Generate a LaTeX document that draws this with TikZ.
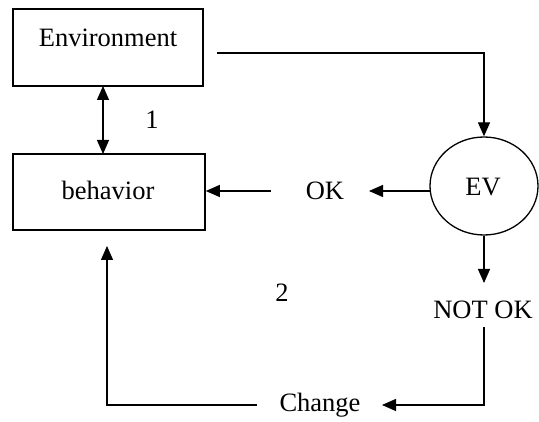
\documentclass[tikz,border=0pt]{standalone}
\usepackage{fontspec}
\setmainfont{Liberation Serif}
\usetikzlibrary{arrows.meta,shapes.geometric}
\begin{document}
\begin{tikzpicture}[x=1pt,y=-1pt,
  boxnode/.style={draw,line width=1.6pt,rectangle,inner sep=0pt},
  txt/.style={font=\fontsize{26.5}{28}\selectfont,inner sep=0pt},
  conn/.style={line width=1.3pt,-{Triangle[width=12pt,length=14pt]}},
  plain/.style={line width=1.3pt}]
\useasboundingbox (0,0) rectangle (539,422);
\node[boxnode,minimum width=190pt,minimum height=77pt] (env) at (108,47.5) {};
\node[boxnode,minimum width=192pt,minimum height=76pt] (beh) at (109,192) {};
\node[txt] (envt) at (108,38) {Environment};
\node[txt] (beht) at (108,190) {behavior};
\node[draw,ellipse,line width=1.3pt,minimum width=108pt,minimum height=98pt,inner sep=0pt] (ev) at (484,186) {};
\node[txt] (evt) at (483,187) {EV};
\node[txt] (ok) at (325,191) {OK};
\node[txt] (notok) at (483,310) {NOT OK};
\node[txt] (change) at (320,405) {Change};
\node[txt] (one) at (152,120) {1};
\node[txt] (two) at (282,293) {2};
\coordinate (e1) at (217,53);
\coordinate (e2) at (484,53);
\coordinate (o1) at (271,191);
\coordinate (o2) at (430.5,191);
\coordinate (n1) at (484,327);
\coordinate (n2) at (484,405);
\coordinate (c1) at (257,405);
\coordinate (c2) at (107,405);
\draw[line width=1.3pt,{Triangle[width=12pt,length=14pt]}-{Triangle[width=12pt,length=14pt]}] (103,86) -- (103,154);
\draw[conn] (e1) -- (e2) -- (ev.north);
\draw[conn] (o2) -- (369,191);
\draw[conn] (o1) -- (o1 -| beh.east);
\draw[conn] (ev.south) -- (484,283);
\draw[conn] (n1) -- (n2) -- (382,405);
\draw[conn] (c1) -- (c2) -- (107,246);
\end{tikzpicture}
\end{document}
